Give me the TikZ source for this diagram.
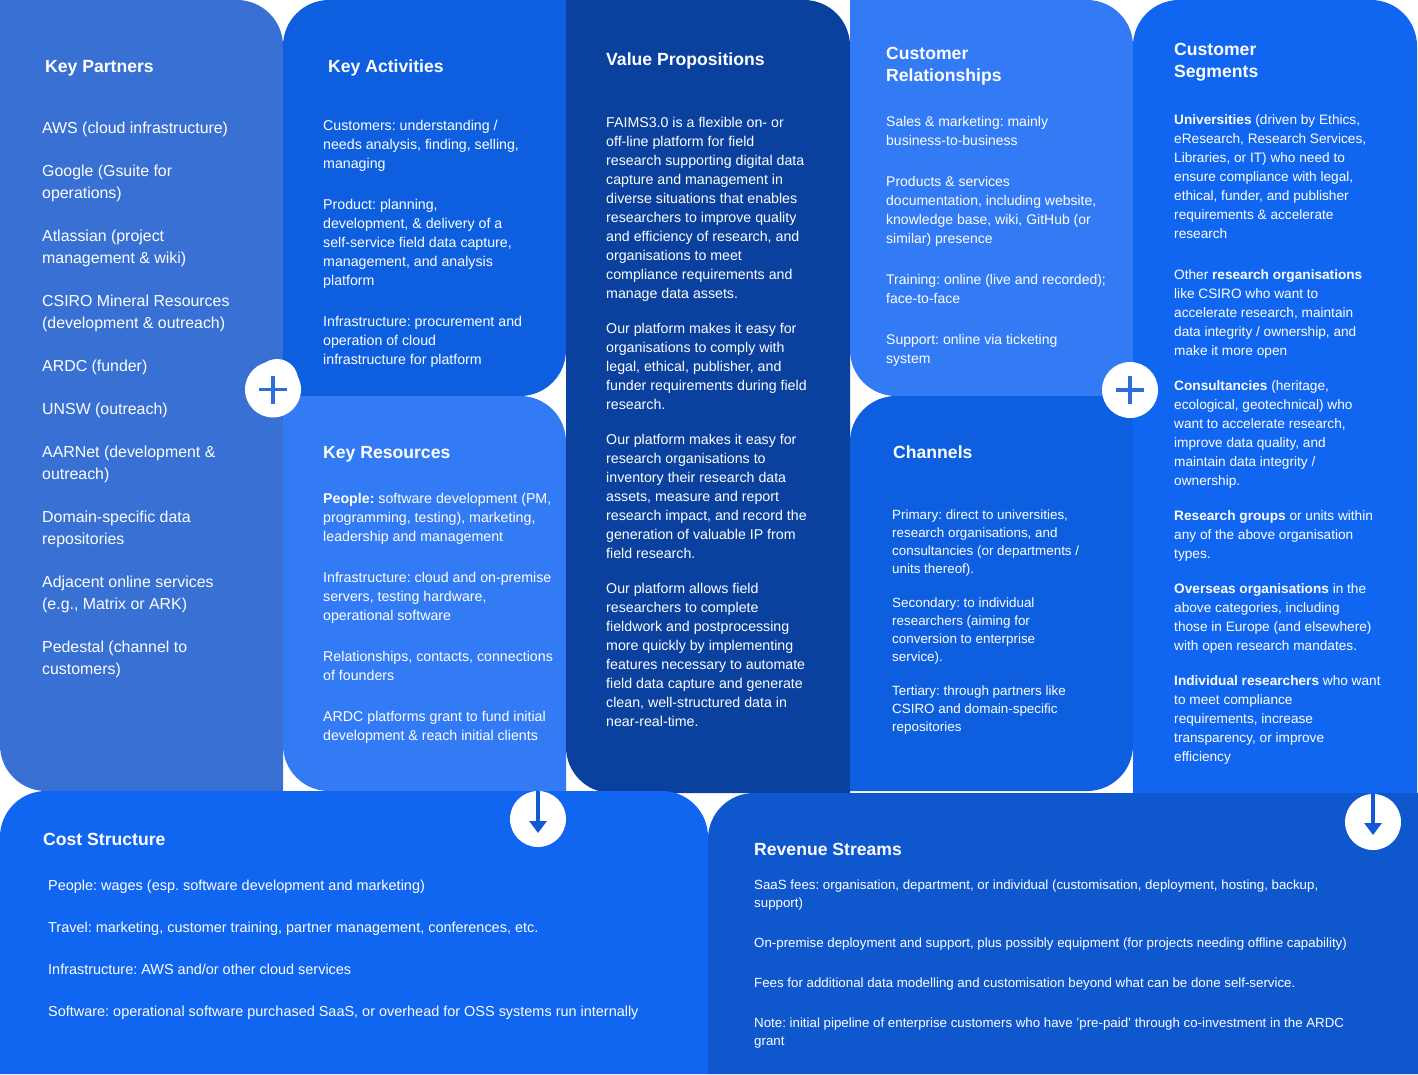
\documentclass[tikz,border=0pt]{standalone}
\usepackage{fontspec}
\setmainfont{Liberation Sans}
\usetikzlibrary{positioning}
\usetikzlibrary{arrows.meta}

\definecolor{partnerblue}{HTML}{3870D3}
\definecolor{activityblue}{HTML}{0D5FE0}
\definecolor{resourceblue}{HTML}{337BF5}
\definecolor{valueblue}{HTML}{0A419E}
\definecolor{segmentblue}{HTML}{1066F0}
\definecolor{revenueblue}{HTML}{0F57CD}
\definecolor{iconblue}{HTML}{2F6FDC}
\definecolor{arrowblue}{HTML}{1259D6}

\frenchspacing

\tikzset{
    paneltext/.style={inner sep=0pt, anchor=north west, align=left, text=white},
    paneltitle/.style={paneltext, font=\fontsize{17.6}{22}\selectfont\bfseries},
    bodylarge/.style={paneltext, font=\fontsize{15.9}{22}\selectfont},
    bodytext/.style={paneltext, font=\fontsize{14.2}{19}\selectfont},
    bodyseg/.style={paneltext, font=\fontsize{13.65}{19}\selectfont},
    bodysmall/.style={paneltext, font=\fontsize{13.4}{18}\selectfont},
    badge/.style={circle, fill=white, minimum size=56pt, inner sep=0pt},
    plusbar/.style={draw=iconblue, line width=3.1pt},
    downarrow/.style={draw=arrowblue, line width=4.5pt, -{Triangle[width=17pt,length=12pt]}}
}

% style, left, top, right, bottom, then radii from the top left clockwise
\newcommand{\panel}[9]{
    \fill[#1] (#2+#6,#3) -- (#4-#7,#3) arc[start angle=-90, end angle=0, radius=#7]
        -- (#4,#5-#8) arc[start angle=0, end angle=90, radius=#8]
        -- (#2+#9,#5) arc[start angle=90, end angle=180, radius=#9]
        -- (#2,#3+#6) arc[start angle=180, end angle=270, radius=#6] -- cycle;
}

\begin{document}
\begin{tikzpicture}[x=1pt, y=-1pt]
    \useasboundingbox (0,0) rectangle (1418,1074);

    \panel{partnerblue}{0}{0}{283}{791}{0.01}{46}{0.01}{46}
    \panel{activityblue}{283}{0}{566}{396}{46}{0.01}{46}{0.01}
    \panel{resourceblue}{283}{396}{566}{791}{0.01}{46}{0.01}{46}
    \panel{valueblue}{566}{0}{850}{793}{0.01}{46}{0.01}{46}
    \panel{resourceblue}{850}{0}{1133}{396}{0.01}{46}{0.01}{46}
    \panel{activityblue}{850}{396}{1133}{791}{46}{0.01}{46}{0.01}
    \panel{segmentblue}{1133}{0}{1417}{793}{46}{46}{0.01}{0.01}
    \panel{segmentblue}{0}{791}{708}{1074}{46}{46}{0.01}{0.01}
    \panel{revenueblue}{708}{793}{1418}{1074}{46}{0.01}{0.01}{0.01}

    \node[paneltitle] (partnerstitle) at (45,60) {Key Partners};
    \node[bodylarge] (partners) at (42,122) {AWS (cloud infrastructure)\\[21pt]
        Google (Gsuite for\\operations)\\[21pt]
        Atlassian (project\\management \& wiki)\\[21pt]
        CSIRO Mineral Resources\\(development \& outreach)\\[21pt]
        ARDC (funder)\\[21pt]
        UNSW (outreach)\\[21pt]
        AARNet (development \&\\outreach)\\[21pt]
        Domain-specific data\\repositories\\[21pt]
        Adjacent online services\\(e.g., Matrix or ARK)\\[21pt]
        Pedestal (channel to\\customers)};

    \node[paneltitle] (activitiestitle) at (328,60) {Key Activities};
    \node[bodytext] (activities) at (323,120) {Customers: understanding /\\needs analysis, finding, selling,\\managing\\[22pt]
        Product: planning,\\development, \& delivery of a\\self-service field data capture,\\management, and analysis\\platform\\[22pt]
        Infrastructure: procurement and\\operation of cloud\\infrastructure for platform};

    \node[paneltitle] (resourcestitle) at (323,446) {Key Resources};
    \node[bodytext] (resources) at (323,493) {\textbf{People:} software development (PM,\\programming, testing), marketing,\\leadership and management\\[22pt]
        Infrastructure: cloud and on-premise\\servers, testing hardware,\\operational software\\[22pt]
        Relationships, contacts, connections\\of founders\\[22pt]
        ARDC platforms grant to fund initial\\development \& reach initial clients};

    \node[paneltitle] (valuetitle) at (606,52.5) {Value Propositions};
    \node[bodytext] (value) at (606,117) {FAIMS3.0 is a flexible on- or\\off-line platform for field\\research supporting digital data\\capture and management in\\diverse situations that enables\\researchers to improve quality\\and efficiency of research, and\\organisations to meet\\compliance requirements and\\manage data assets.\\[16pt]
        Our platform makes it easy for\\organisations to comply with\\legal, ethical, publisher, and\\funder requirements during field\\research.\\[16pt]
        Our platform makes it easy for\\research organisations to\\inventory their research data\\assets, measure and report\\research impact, and record the\\generation of valuable IP from\\field research.\\[16pt]
        Our platform allows field\\researchers to complete\\fieldwork and postprocessing\\more quickly by implementing\\features necessary to automate\\field data capture and generate\\clean, well-structured data in\\near-real-time.};

    \node[paneltitle] (relationstitle) at (886,47) {Customer\\Relationships};
    \node[bodytext, font=\fontsize{14}{19}\selectfont] (relations) at (886,116.5) {Sales \& marketing: mainly\\business-to-business\\[22pt]
        Products \& services\\documentation, including website,\\knowledge base, wiki, GitHub (or\\similar) presence\\[22pt]
        Training: online (live and recorded);\\face-to-face\\[22pt]
        Support: online via ticketing\\system};

    \node[paneltitle] (channelstitle) at (893,446) {Channels};
    \node[bodysmall] (channels) at (892,510) {Primary: direct to universities,\\research organisations, and\\consultancies (or departments /\\units thereof).\\[16pt]
        Secondary: to individual\\researchers (aiming for\\conversion to enterprise\\service).\\[16pt]
        Tertiary: through partners like\\CSIRO and domain-specific\\repositories};

    \node[paneltitle] (segmentstitle) at (1174,43) {Customer\\Segments};
    \node[bodyseg] (segments) at (1174,114.5) {\textbf{Universities} (driven by Ethics,\\eResearch, Research Services,\\Libraries, or IT) who need to\\ensure compliance with legal,\\ethical, funder, and publisher\\requirements \& accelerate\\research\\[22pt]
        Other \textbf{research organisations}\\like CSIRO who want to\\accelerate research, maintain\\data integrity / ownership, and\\make it more open\\[16pt]
        \textbf{Consultancies} (heritage,\\ecological, geotechnical) who\\want to accelerate research,\\improve data quality, and\\maintain data integrity /\\ownership.\\[16pt]
        \textbf{Research groups} or units within\\any of the above organisation\\types.\\[16pt]
        \textbf{Overseas organisations} in the\\above categories, including\\those in Europe (and elsewhere)\\with open research mandates.\\[16pt]
        \textbf{Individual researchers} who want\\to meet compliance\\requirements, increase\\transparency, or improve\\efficiency};

    \node[paneltitle] (costtitle) at (43,833) {Cost Structure};
    \node[bodytext, font=\fontsize{14.45}{19}\selectfont] (cost) at (48,880) {People: wages (esp. software development and marketing)\\[23pt]
        Travel: marketing, customer training, partner management, conferences, etc.\\[23pt]
        Infrastructure: AWS and/or other cloud services\\[23pt]
        Software: operational software purchased SaaS, or overhead for OSS systems run internally};

    \node[paneltitle] (revenuetitle) at (754,843) {Revenue Streams};
    \node[bodysmall, font=\fontsize{13.3}{18}\selectfont] (revenue) at (754,880) {SaaS fees: organisation, department, or individual (customisation, deployment, hosting, backup,\\support)\\[22pt]
        On-premise deployment and support, plus possibly equipment (for projects needing offline capability)\\[22pt]
        Fees for additional data modelling and customisation beyond what can be done self-service.\\[22pt]
        Note: initial pipeline of enterprise customers who have 'pre-paid' through co-investment in the ARDC\\grant};

    % the two joins and the two flows
    \node[badge] (plusleft) at (273,389.5) {};
    \node[circle, fill=white, minimum size=42pt, inner sep=0pt] (plusbulge) at (277,380) {};
    \draw[plusbar] ([xshift=-14pt]plusleft.center) -- ([xshift=14pt]plusleft.center);
    \draw[plusbar] ([yshift=14pt]plusleft.center) -- ([yshift=-14pt]plusleft.center);
    \node[badge] (plusright) at (1130,390) {};
    \draw[plusbar] ([xshift=-14pt]plusright.center) -- ([xshift=14pt]plusright.center);
    \draw[plusbar] ([yshift=14pt]plusright.center) -- ([yshift=-14pt]plusright.center);

    \node[badge] (costbadge) at (538,819) {};
    \coordinate (costfoot) at (538,833);
    \draw[downarrow] (costbadge.north) -- (costfoot);
    \node[badge] (revenuebadge) at (1373,822) {};
    \coordinate (revenuefoot) at (1373,835);
    \draw[downarrow] (revenuebadge.north) -- (revenuefoot);
\end{tikzpicture}
\end{document}
